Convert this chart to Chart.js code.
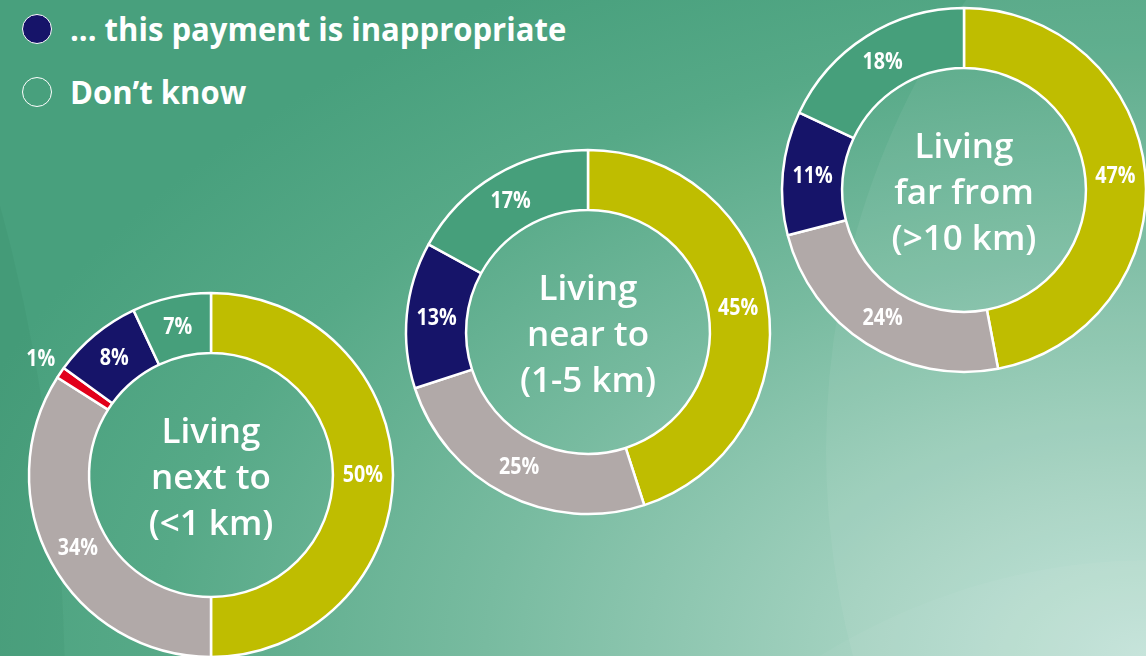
<!DOCTYPE html>
<html>
<head>
<meta charset="utf-8">
<script src="https://cdn.jsdelivr.net/npm/chart.js@4.4.1/dist/chart.umd.min.js"></script>
<style>
  html, body { margin: 0; padding: 0; }
  body {
    width: 1146px; height: 656px; overflow: hidden; position: relative;
    font-family: "Open Sans", sans-serif;
    background: radial-gradient(ellipse 120% 130% at 100% 100%, #c2e2d8 0%, #a2d1bf 22%, #78bba0 48%, #56a987 72%, #48a07d 90%);
  }
  .swoosh { position: absolute; border-radius: 50%; pointer-events: none; }
  .legend { position: absolute; left: 22px; color: #fff; font-weight: 700; font-size: 32px; white-space: nowrap; }
  .legend .dot { position: absolute; left: 0; top: 50%; width: 30px; height: 30px; margin-top: -15px; border-radius: 50%; border: 1.5px solid #fff; box-sizing: border-box; }
  .legend .txt { position: absolute; left: 48px; top: 50%; transform: translateY(-52%) scaleX(0.97); transform-origin: left center; }
  canvas { position: absolute; }
</style>
</head>
<body>
<div class="swoosh" style="left:-1400px; top:-500px; width:1465px; height:2400px; background: rgba(0,70,40,0.05);"></div>
<div class="swoosh" style="left:452px; top:560px; width:1400px; height:1600px; background: rgba(255,255,255,0.04);"></div>
<div class="swoosh" style="left:826px; top:-300px; width:1400px; height:1500px; background: rgba(255,255,255,0.06);"></div>

<div class="legend" id="leg1" style="top:29px;"><span class="dot" style="background:#161469;"></span><span class="txt"></span></div>
<div class="legend" id="leg2" style="top:92px;"><span class="dot"></span><span class="txt"></span></div>

<canvas id="c1" width="440" height="440" style="left:-9px; top:255px;"></canvas>
<canvas id="c2" width="440" height="440" style="left:368px; top:112px;"></canvas>
<canvas id="c3" width="440" height="440" style="left:744px; top:-30px;"></canvas>

<script>
const categories = ['... this payment is appropriate', 'Neither', 'Other', '... this payment is inappropriate', "Don’t know"];
const colours = ['#bfbd00', '#b1a9a8', '#e2001a', '#161469', '#469f7b'];
const nextTo = [50, 34, 1, 8, 7];
const nearTo = [45, 25, 0, 13, 17];
const farFrom = [47, 24, 0, 11, 18];
const titles = [
  ['Living', 'next to', '(<1 km)'],
  ['Living', 'near to', '(1-5 km)'],
  ['Living', 'far from', '(>10 km)']
];
const legendShown = [3, 4];

document.querySelector('#leg1 .txt').textContent = categories[legendShown[0]];
document.querySelector('#leg2 .txt').textContent = categories[legendShown[1]];

const pctLabels = {
  id: 'pctLabels',
  afterDatasetsDraw(chart) {
    const ctx = chart.ctx;
    const meta = chart.getDatasetMeta(0);
    const data = chart.data.datasets[0].data;
    ctx.save();
    ctx.fillStyle = '#fff';
    ctx.font = '700 24px "Open Sans"';
    ctx.textAlign = 'center';
    ctx.textBaseline = 'middle';
    meta.data.forEach((arc, i) => {
      const v = data[i];
      if (!v) return;
      const p = arc.getProps(['x', 'y', 'startAngle', 'endAngle', 'innerRadius', 'outerRadius'], true);
      const mid = (p.startAngle + p.endAngle) / 2;
      const r = v < 3 ? p.outerRadius + 24 : (p.innerRadius + p.outerRadius) / 2;
      const x = p.x + Math.cos(mid) * r;
      const y = p.y + Math.sin(mid) * r;
      ctx.save();
      ctx.translate(x, y);
      ctx.scale(0.82, 1);
      ctx.fillText(v + '%', 0, 0);
      ctx.restore();
    });
    ctx.restore();
  }
};

const centreText = {
  id: 'centreText',
  afterDraw(chart, args, opts) {
    const ctx = chart.ctx;
    const arc = chart.getDatasetMeta(0).data[0];
    ctx.save();
    ctx.fillStyle = '#fff';
    ctx.font = '600 35px "Open Sans"';
    ctx.textAlign = 'center';
    ctx.textBaseline = 'alphabetic';
    opts.lines.forEach((t, i) => {
      ctx.fillText(t, arc.x, arc.y - 32 + i * 46);
    });
    ctx.restore();
  }
};

function makeDonut(id, values, lines) {
  new Chart(document.getElementById(id), {
    type: 'doughnut',
    data: {
      labels: categories,
      datasets: [{
        data: values,
        backgroundColor: colours,
        borderColor: '#ffffff',
        borderWidth: 2.5,
        radius: 182,
        cutout: '67%'
      }]
    },
    options: {
      responsive: false,
      animation: false,
      events: [],
      layout: { padding: 0 },
      plugins: {
        legend: { display: false },
        tooltip: { enabled: false },
        centreText: { lines: lines }
      }
    },
    plugins: [pctLabels, centreText]
  });
}

makeDonut('c1', nextTo, titles[0]);
makeDonut('c2', nearTo, titles[1]);
makeDonut('c3', farFrom, titles[2]);
</script>
</body>
</html>
